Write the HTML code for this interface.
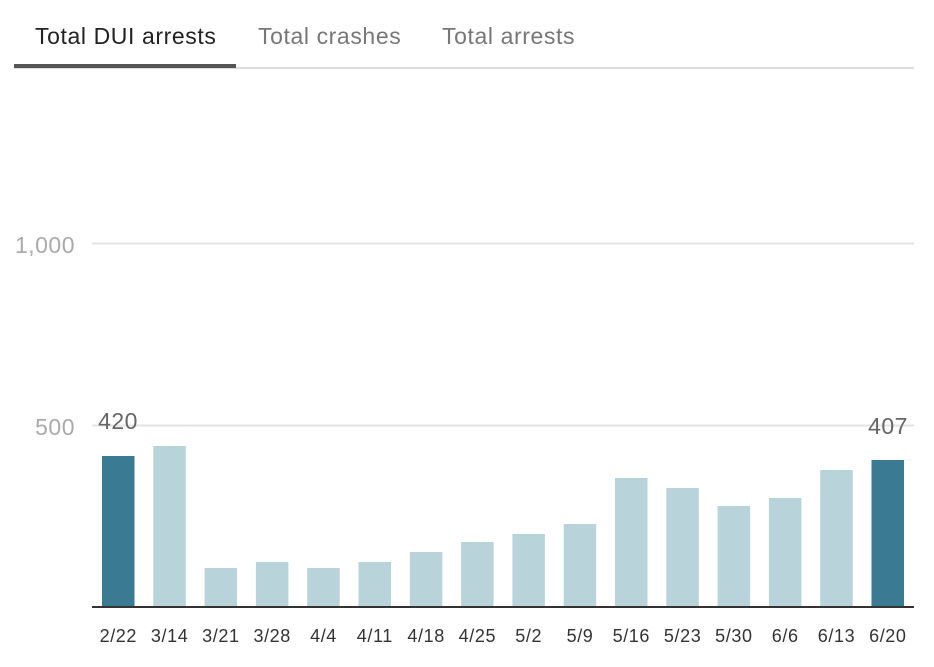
<!DOCTYPE html>
<html><head><style>
body{margin:0;background:#fff;font-family:"Liberation Sans",sans-serif;}
</style></head><body>
<svg width="934" height="662" xmlns="http://www.w3.org/2000/svg" font-family="Liberation Sans, sans-serif">
<text x="35" y="44" font-size="23" letter-spacing="0.6" fill="#222">Total DUI arrests</text>
<text x="258" y="44" font-size="23" letter-spacing="0.6" fill="#777">Total crashes</text>
<text x="442" y="44" font-size="23" letter-spacing="0.6" fill="#777">Total arrests</text>
<rect x="14" y="67" width="900" height="2" fill="#ddd"/>
<rect x="14" y="64" width="222" height="4" fill="#555"/>
<line x1="92" y1="243.5" x2="914" y2="243.5" stroke="#e3e3e3" stroke-width="2"/>
<line x1="92" y1="425.5" x2="914" y2="425.5" stroke="#e3e3e3" stroke-width="2"/>
<text x="75" y="253" font-size="23" letter-spacing="0.5" fill="#aaa" text-anchor="end">1,000</text>
<text x="75" y="435" font-size="23" letter-spacing="0.5" fill="#aaa" text-anchor="end">500</text>
<g id="bars"></g>
<line x1="92" y1="607" x2="914" y2="607" stroke="#333" stroke-width="2"/>
<text x="118" y="429" font-size="23" letter-spacing="0.5" fill="#666" text-anchor="middle">420</text>
<text x="888" y="434" font-size="23" letter-spacing="0.5" fill="#666" text-anchor="middle">407</text>
<g id="labels" font-size="18" letter-spacing="0.6" fill="#333" text-anchor="middle"></g>
</svg>
<script>
var tops=[456,446,568,562,568,562,552,542,534,524,478,488,506,498,470,460];
var labs=["2/22","3/14","3/21","3/28","4/4","4/11","4/18","4/25","5/2","5/9","5/16","5/23","5/30","6/6","6/13","6/20"];
var b=document.getElementById("bars"),l=document.getElementById("labels"),ns="http://www.w3.org/2000/svg";
for(var i=0;i<16;i++){
 var x=102+i*51.3;
 var r=document.createElementNS(ns,"rect");
 r.setAttribute("x",x);r.setAttribute("y",tops[i]);r.setAttribute("width",32.5);r.setAttribute("height",607-tops[i]);
 r.setAttribute("fill",(i==0||i==15)?"#3a7a92":"#b9d3da");b.appendChild(r);
 var t=document.createElementNS(ns,"text");t.setAttribute("x",x+16.3);t.setAttribute("y",642);t.textContent=labs[i];l.appendChild(t);
}
</script>
</body></html>
